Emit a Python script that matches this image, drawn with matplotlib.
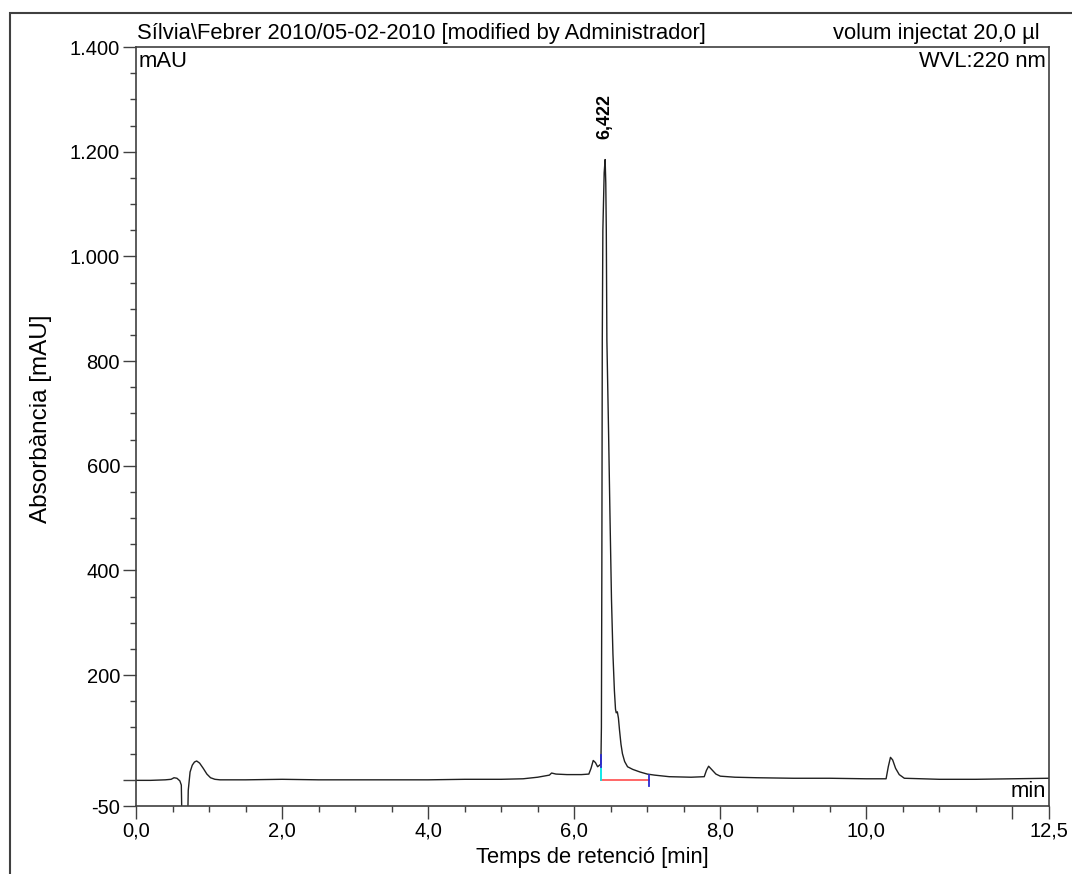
import matplotlib
matplotlib.use('Agg')
import matplotlib.pyplot as plt
from matplotlib.patches import Rectangle
from matplotlib.ticker import FixedLocator, FixedFormatter

plt.rcParams['font.family'] = ['Liberation Sans', 'DejaVu Sans']

# chromatogram trace: retention time [min] and absorbance [mAU]
temps = [0.0, 0.2, 0.4, 0.48, 0.52, 0.56, 0.60, 0.62, 0.635, 0.70, 0.715,
         0.74, 0.77, 0.80, 0.83, 0.87, 0.92, 0.97, 1.02, 1.08, 1.15, 1.5,
         2.0, 2.5, 3.0, 3.5, 4.0, 4.5, 5.0, 5.3, 5.5, 5.66, 5.69, 5.75, 5.9,
         6.1, 6.2, 6.23, 6.26, 6.29, 6.32, 6.365, 6.372, 6.378, 6.384, 6.392,
         6.41, 6.423, 6.432, 6.439, 6.447, 6.47, 6.49, 6.51, 6.53, 6.55,
         6.565, 6.575, 6.59, 6.605, 6.62, 6.64, 6.66, 6.69, 6.73, 6.8, 6.9,
         7.0, 7.1, 7.3, 7.6, 7.78, 7.81, 7.84, 7.88, 7.94, 8.0, 8.2, 8.5,
         9.0, 9.5, 10.0, 10.27, 10.3, 10.33, 10.36, 10.4, 10.45, 10.52, 11.0,
         11.5, 12.0, 12.5]
absorb = [-1, -1, 0, 1, 4, 3, -2, -10, -130, -130, -20,
          15, 28, 34, 36, 32, 22, 11, 4, 1, 0, 0,
          1, 0, 0, 0, 0, 1, 1, 2, 5, 9, 13, 11, 10,
          10, 11, 22, 37, 33, 25, 30, 100, 400, 840, 1050,
          1160, 1185, 1140, 1050, 840, 665, 500, 345, 240, 170,
          135, 128, 130, 118, 95, 68, 50, 35, 25, 20, 15,
          11, 9, 6, 5, 6, 18, 26, 20, 11, 7, 5, 4,
          3, 3, 2, 2, 25, 43, 38, 22, 10, 3, 1,
          1, 2, 3]

peak_t = 6.422
peak_h = 1185
peak_lbl = "6,422"

# integration limits of the main peak
int_start = 6.365
int_end = 7.03

y_major = [-50, 0, 200, 400, 600, 800, 1000, 1200, 1400]
y_labels = ["-50", "", "200", "400", "600", "800", "1.000", "1.200", "1.400"]
x_major = [0, 2, 4, 6, 8, 10, 12, 12.5]
x_labels = ["0,0", "2,0", "4,0", "6,0", "8,0", "10,0", "", "12,5"]

fs = 15.8

fig = plt.figure(figsize=(10.72, 8.74), dpi=100)
ax = fig.add_axes([0.1269, 0.0778, 0.8516, 0.8684])

ax.plot(temps, absorb, color='#202020', lw=1.0)

# baseline and peak delimiters
ax.plot([int_start, int_end], [0, 0], color='#ff5a5a', lw=1.3)
ax.plot([int_start, int_start], [0, 25], color='#00e5e5', lw=1.3)
ax.plot([int_start, int_start], [25, 48], color='#2a2ad0', lw=1.3)
ax.plot([int_end, int_end], [-12, 10], color='#2a2ad0', lw=1.3)

ax.annotate(peak_lbl, (peak_t, peak_h), xytext=(0, 15), textcoords='offset points',
            rotation=90, ha='center', va='bottom', fontsize=13, fontweight='bold')

ax.set_xlim(0, 12.5)
ax.set_ylim(-50, 1400)

ax.yaxis.set_major_locator(FixedLocator(y_major))
ax.yaxis.set_major_formatter(FixedFormatter(y_labels))
ax.yaxis.set_minor_locator(FixedLocator([v for v in range(-50, 1401, 50) if v not in y_major]))
ax.xaxis.set_major_locator(FixedLocator(x_major))
ax.xaxis.set_major_formatter(FixedFormatter(x_labels))
ax.xaxis.set_minor_locator(FixedLocator([i * 0.5 for i in range(26) if i * 0.5 not in x_major]))

ax.tick_params(which='major', length=9.5, width=1.0, color='#404040', labelsize=14.5, pad=2)
ax.tick_params(which='minor', length=4.5, width=1.0, color='#404040')
for s in ax.spines.values():
    s.set_color('#404040')
    s.set_linewidth(1.2)

ax.set_xlabel("Temps de retenció [min]", fontsize=fs, labelpad=4)
ax.set_ylabel("Absorbància [mAU]", fontsize=17.5)
ax.yaxis.set_label_coords(-0.092, 0.51)

ax.text(0.001, 1.004, "Sílvia\\Febrer 2010/05-02-2010 [modified by Administrador]",
        transform=ax.transAxes, ha='left', va='bottom', fontsize=fs)
ax.text(0.99, 1.004, "volum injectat 20,0 µl", transform=ax.transAxes,
        ha='right', va='bottom', fontsize=fs)
ax.text(0.003, 0.995, "mAU", transform=ax.transAxes, ha='left', va='top', fontsize=fs)
ax.text(0.997, 0.995, "WVL:220 nm", transform=ax.transAxes, ha='right', va='top', fontsize=fs)
ax.text(0.997, 0.005, "min", transform=ax.transAxes, ha='right', va='bottom', fontsize=fs)

# outer frame around the report area
fig.patches.append(Rectangle((10 / 1072, -0.2), 1.5, 0.2 + 1 - 13 / 874, transform=fig.transFigure,
                             fill=False, edgecolor='#404040', lw=1.5))

fig.savefig('out.png', dpi=100)
